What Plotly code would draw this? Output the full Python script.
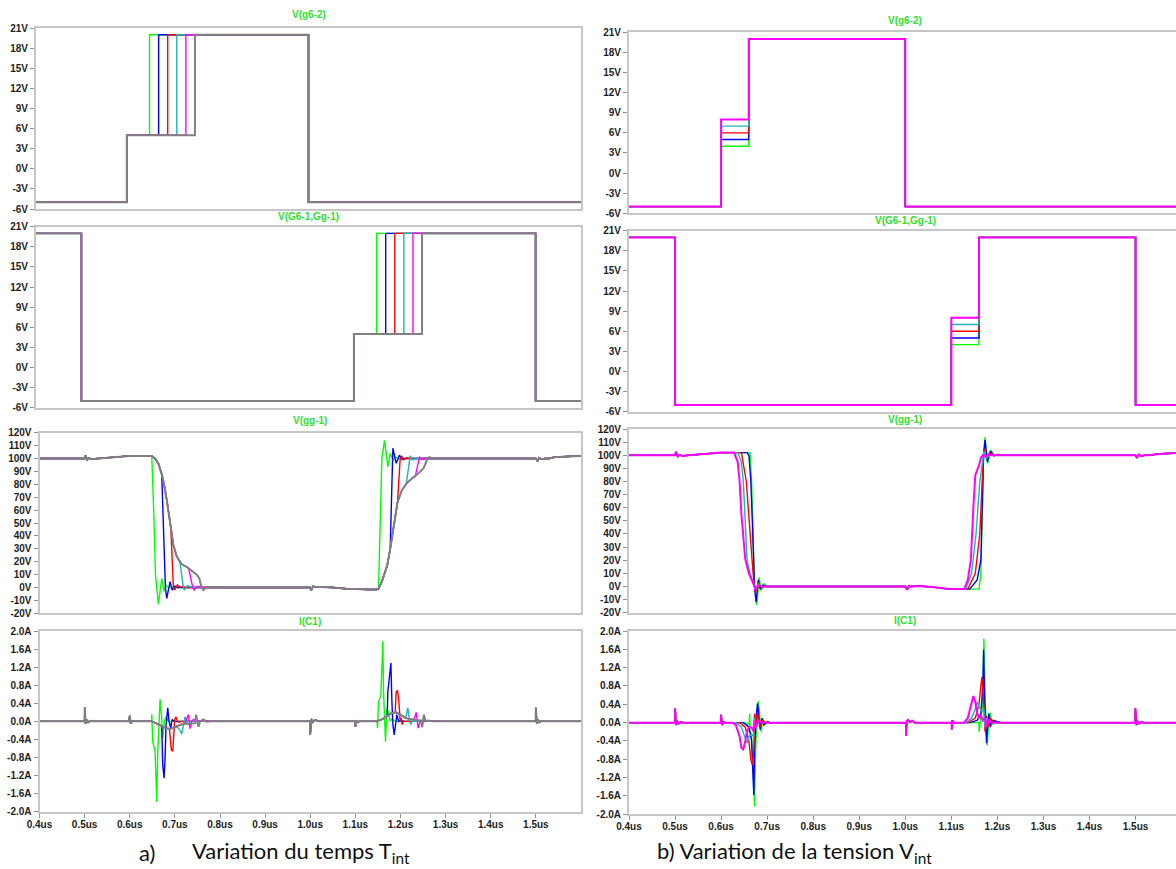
import plotly.graph_objects as go

W, H = 1176, 869

# ------------------------------------------------------------------ ticks / labels
X_TICK_VALS = [0.4, 0.5, 0.6, 0.7, 0.8, 0.9, 1.0, 1.1, 1.2, 1.3, 1.4, 1.5]
X_TICK_TEXT = ["0.4us", "0.5us", "0.6us", "0.7us", "0.8us", "0.9us", "1.0us",
               "1.1us", "1.2us", "1.3us", "1.4us", "1.5us"]
GATE_TICK_VALS = [21, 18, 15, 12, 9, 6, 3, 0, -3, -6]
GATE_TICK_TEXT = ["21V", "18V", "15V", "12V", "9V", "6V", "3V", "0V", "-3V", "-6V"]
VGG_TICK_VALS = [120, 110, 100, 90, 80, 70, 60, 50, 40, 30, 20, 10, 0, -10, -20]
VGG_TICK_TEXT = ["120V", "110V", "100V", "90V", "80V", "70V", "60V", "50V", "40V",
                 "30V", "20V", "10V", "0V", "-10V", "-20V"]
IC_TICK_VALS = [2.0, 1.6, 1.2, 0.8, 0.4, 0.0, -0.4, -0.8, -1.2, -1.6, -2.0]
IC_TICK_TEXT = ["2.0A", "1.6A", "1.2A", "0.8A", "0.4A", "0.0A", "-0.4A", "-0.8A",
                "-1.2A", "-1.6A", "-2.0A"]
PANEL_TITLES = ["V(g6-2)", "V(G6-1,Gg-1)", "V(gg-1)", "I(C1)"]
CAPTION_A_LABEL = "a)"
CAPTION_A_TEXT = "Variation du temps T<sub>int</sub>"
CAPTION_B_TEXT = "b) Variation de la tension V<sub>int</sub>"

# ------------------------------------------------------------------ gate data
T_START, T_END = 0.4, 1.6
V_LOW, V_HIGH = -5, 20
G2_ON, G2_OFF = 0.6, 1.0            # V(g6-2) edges
G1_OFF, G1_ON, G1_OFF2 = 0.5, 1.1, 1.5   # V(G6-1,Gg-1) edges

# a) time variation : intermediate level 5 V, switching instants vary
L_V_INT = 5
L_G2_T_INT = [0.65, 0.67, 0.69, 0.71, 0.73, 0.75]
L_G1_T_INT = [1.15, 1.17, 1.19, 1.21, 1.23, 1.25]

# b) voltage variation : fixed instants, intermediate level varies
R_V_INT = [4, 5, 6, 7, 8]
R_G2_T_INT = 0.66
R_G1_T_INT = 1.16

# ------------------------------------------------------------------ a) V(gg-1)
LV_PRE_T = [0.40, 0.50, 0.502, 0.506, 0.51, 0.515, 0.53, 0.55, 0.57, 0.60, 0.62, 0.645]
LV_PRE_V = [100, 100, 102.5, 99, 100.3, 99.5, 100, 100.5, 101.5, 102, 102, 102]
LV_FENV_T = [0.6487, 0.6561, 0.6635, 0.6709, 0.6761, 0.682, 0.6894, 0.6967, 0.7041,
             0.7152, 0.7263, 0.7374, 0.7485, 0.7544]
LV_FENV_V = [102, 100, 96, 88, 80, 68, 50, 33, 24, 18, 16, 13, 10, 7]
LV_FALL_T = [
    [0.6488, 0.653, 0.657, 0.6635, 0.6709, 0.6761, 0.680, 0.685, 0.70],
    [0.6709, 0.679, 0.682, 0.6894, 0.694, 0.699, 0.705],
    [0.6909, 0.6967, 0.699, 0.7055, 0.7115, 0.717, 0.722],
    [0.7115, 0.7189, 0.721, 0.7278, 0.7374],
    [0.7307, 0.7396, 0.7426, 0.75, 0.7596, 0.78],
    [0.7588, 0.7633, 0.7707, 0.7818],
]
LV_FALL_V = [
    [102, 60, 10, -13, 7, -3, 2, 0, 0],
    [88, 0, -8.4, 4.5, -2, 1, 0],
    [47, 0, -2, 2, 0, 1, 0],
    [19, 0, -2, 1.5, 0],
    [14.5, 0, -2, 1, 0, 0],
    [0, -2, 0.5, 0],
]
LV_MID_T = [0.79, 0.99, 0.9998, 1.002, 1.006, 1.01, 1.03, 1.05, 1.08, 1.11, 1.13, 1.1476]
LV_MID_V = [0, 0, 0, -2.5, 1, 0.5, 0.5, 0, -1, -1.5, -1.5, -1.5]
LV_RENV_T = [1.1513, 1.1587, 1.1705, 1.1772, 1.1845, 1.1934, 1.2031, 1.2141, 1.2252,
             1.24, 1.2511, 1.26]
LV_RENV_V = [-1, 4.5, 17, 30, 48, 66, 75.5, 81, 84.5, 88.5, 92.5, 100]
LV_RISE_T = [
    [1.1513, 1.155, 1.1587, 1.1646, 1.172, 1.1772, 1.183, 1.19, 1.1978],
    [1.1772, 1.1831, 1.1905, 1.1978, 1.203, 1.21],
    [1.1934, 1.1993, 1.2031, 1.207, 1.2141, 1.22],
    [1.2126, 1.2215, 1.227, 1.233],
    [1.2326, 1.2422, 1.247, 1.255, 1.2954],
    [1.2644, 1.27],
]
LV_RISE_V = [
    [-1, 50, 100, 114, 93.6, 104, 99, 101, 100],
    [30, 108, 96.3, 102.7, 99.5, 100],
    [66, 100, 101.5, 99, 100.5, 100],
    [80, 102, 99, 100],
    [86, 101, 99.5, 100, 100],
    [101, 100],
]
LV_POST_T = [1.30, 1.50, 1.504, 1.507, 1.512, 1.52, 1.53, 1.54, 1.57, 1.60]
LV_POST_V = [100, 100, 98, 100.5, 99.5, 100, 100, 101, 101.5, 102]

# ------------------------------------------------------------------ a) I(C1)
LI_PRE_T = [0.40, 0.50, 0.5003, 0.502, 0.505, 0.508, 0.512, 0.52, 0.598, 0.60, 0.602,
            0.605, 0.61, 0.645]
LI_PRE_V = [0, 0, 0.31, -0.05, 0.02, -0.02, 0.01, 0, 0, 0.12, -0.05, 0.01, 0, 0]
LI_FENV_T = [0.6487, 0.66, 0.6709, 0.68, 0.6894, 0.70, 0.7115, 0.72, 0.73, 0.745]
LI_FENV_V = [0, -0.05, -0.10, -0.15, -0.17, -0.12, -0.08, -0.05, -0.06, -0.04]
LI_FALL_T = [
    [0.6488, 0.6509, 0.6561, 0.6583, 0.6598, 0.662, 0.665, 0.6672, 0.6709, 0.6731,
     0.6768, 0.6805, 0.6857, 0.70],
    [0.6709, 0.6731, 0.6761, 0.6783, 0.6805, 0.6842, 0.6871, 0.6908, 0.6938, 0.6982, 0.71],
    [0.6879, 0.6908, 0.6923, 0.6953, 0.6975, 0.6997, 0.7027, 0.7056, 0.7086, 0.715],
    [0.7041, 0.7115, 0.7152, 0.7189, 0.7226, 0.7263, 0.73, 0.74],
    [0.7226, 0.73, 0.7337, 0.7374, 0.7411, 0.7485, 0.7965],
    [0.747, 0.7522, 0.7559, 0.7633, 0.7707, 0.78],
]
LI_FALL_V = [
    [0.156, -0.45, -0.67, -1.52, -1.78, -0.70, -0.07, 0.49, 0.05, -0.37, 0, 0.10, 0, 0],
    [-0.10, -0.97, -1.26, -0.80, -0.07, 0.30, 0, -0.15, 0.04, 0, 0],
    [-0.16, -0.45, -0.63, -0.66, -0.40, 0.04, 0.10, 0, -0.02, 0],
    [-0.12, -0.20, -0.28, -0.05, 0.10, -0.02, 0, 0],
    [-0.05, 0.15, -0.16, 0, 0.04, 0.02, 0.01],
    [0.15, -0.12, 0, 0.04, -0.01, 0],
]
LI_MID_T = [0.80, 0.9995, 1.0, 1.002, 1.005, 1.01, 1.02, 1.0995, 1.1, 1.102, 1.106,
            1.11, 1.12, 1.1476]
LI_MID_V = [0, 0, -0.30, 0.05, -0.02, 0.03, 0, 0, -0.12, 0.02, -0.02, 0.01, 0, 0]
LI_RENV_T = [1.16, 1.17, 1.18, 1.19, 1.20, 1.21, 1.22, 1.235, 1.245]
LI_RENV_V = [0.05, 0.12, 0.18, 0.20, 0.15, 0.08, 0.05, 0.03, 0.02]
LI_RISE_T = [
    [1.1491, 1.1513, 1.1565, 1.1587, 1.1609, 1.1624, 1.1646, 1.1668, 1.1698, 1.1735,
     1.1772, 1.1809, 1.19, 1.20],
    [1.1705, 1.172, 1.1772, 1.1787, 1.1809, 1.1831, 1.1861, 1.189, 1.192, 1.1957, 1.1993, 1.21],
    [1.1883, 1.1905, 1.1934, 1.1963, 1.1993, 1.2015, 1.2037, 1.2067, 1.215],
    [1.2082, 1.2126, 1.2163, 1.22, 1.223, 1.2259, 1.235],
    [1.2304, 1.2348, 1.2392, 1.2437, 1.2474, 1.2917],
    [1.2459, 1.2481, 1.2518, 1.2555, 1.26, 1.27],
]
LI_RISE_V = [
    [-0.15, 0.42, 0.58, 1.32, 1.78, 0.66, 0, -0.45, 0.27, 0.20, 0, 0.05, 0, 0],
    [0.12, 0.66, 1.25, 1.29, 0.45, -0.07, -0.30, 0, 0.15, 0, 0.02, 0],
    [0.20, 0.66, 0.68, 0.45, 0, 0.07, -0.07, 0, 0],
    [0.10, 0.12, 0.30, 0, -0.07, 0, 0],
    [0.04, 0.20, -0.15, 0, 0.02, 0.01],
    [0, -0.13, 0.15, 0, 0.02, 0],
]
LI_POST_T = [1.30, 1.4995, 1.50, 1.502, 1.505, 1.508, 1.512, 1.52, 1.60]
LI_POST_V = [0, 0, 0.30, -0.05, 0.02, -0.02, 0.01, 0, 0]

# ------------------------------------------------------------------ b) V(gg-1)
RV_PRE_T = [0.40, 0.50, 0.502, 0.506, 0.51, 0.515, 0.53, 0.55, 0.57, 0.60, 0.62]
RV_PRE_V = [100, 100, 102.5, 99, 100.3, 99.5, 100, 100.5, 101.5, 102, 102]
RV_FALL_T = [
    [0.6628, 0.6662, 0.6726, 0.6776, 0.6825, 0.687, 0.693, 0.7011],
    [0.6563, 0.6604, 0.6646, 0.6678, 0.6726, 0.6759, 0.6809, 0.6848, 0.6905, 0.697],
    [0.6441, 0.6548, 0.6604, 0.6694, 0.6726, 0.675, 0.6809, 0.6873, 0.693, 0.70],
    [0.6361, 0.6441, 0.6483, 0.6524, 0.6563, 0.6628, 0.6694, 0.6726, 0.675, 0.6809, 0.6889, 0.70],
    [0.628, 0.6361, 0.6402, 0.6441, 0.6483, 0.6524, 0.6604, 0.667, 0.6726, 0.675, 0.6809,
     0.6889, 0.7213],
]
RV_FALL_V = [
    [102, 80, 0, -14, 7, -3, 2, 0],
    [102, 100, 80, 50, 0, -12, 5, -2, 1, 0],
    [102, 80, 50, 10, 0, -5, 3, -1, 0, 0],
    [102, 95, 80, 50, 20, 10, 4, 0, -3, 2, 0, 0],
    [102, 95, 80, 55, 35, 21, 10, 5, 0, -3, 1, 0, 0],
]
RV_MID_T = [0.73, 1.0, 1.004, 1.008, 1.012, 1.03, 1.06, 1.095, 1.12]
RV_MID_V = [0, 0, -2.5, 0.5, 0, 0.3, -0.5, -2, -2]
RV_RISE_T = [
    [1.16, 1.1641, 1.17, 1.1731, 1.1788, 1.186, 1.1926, 1.2007, 1.2089],
    [1.1398, 1.1561, 1.1641, 1.17, 1.1731, 1.178, 1.1845, 1.1926],
    [1.1357, 1.152, 1.1618, 1.1683, 1.1707, 1.1763, 1.1829, 1.1926],
    [1.1316, 1.1439, 1.1537, 1.1618, 1.1683, 1.1707, 1.1763, 1.1845],
    [1.1276, 1.1357, 1.1423, 1.1478, 1.152, 1.16, 1.1641, 1.1683, 1.1748, 1.1804,
     1.1885, 1.2333],
]
RV_RISE_V = [
    [-2, 10, 100, 113.6, 93.8, 104, 99, 101, 100],
    [-2, 5, 20, 100, 111.6, 95, 103, 100],
    [-2, 10, 40, 90, 105, 97, 102, 100],
    [-2, 10, 40, 80, 100, 103, 98, 100],
    [-2, 5, 20, 60, 85, 92, 98, 100, 99, 100.5, 100, 100],
]
RV_POST_T = [1.25, 1.50, 1.503, 1.507, 1.512, 1.52, 1.53, 1.55, 1.60]
RV_POST_V = [100, 100, 98, 100.5, 99.5, 100, 100, 101, 102]

# ------------------------------------------------------------------ b) I(C1)
RI_PRE_T = [0.40, 0.50, 0.5003, 0.502, 0.505, 0.508, 0.512, 0.52, 0.599, 0.60, 0.602,
            0.605, 0.61, 0.62]
RI_PRE_V = [0, 0, 0.31, -0.05, 0.02, -0.02, 0.01, 0, 0, 0.17, -0.05, 0.01, 0, 0]
RI_FALL_T = [
    [0.6524, 0.6604, 0.6622, 0.6628, 0.6662, 0.6694, 0.6726, 0.6743, 0.6776, 0.6809,
     0.6848, 0.6873, 0.6905, 0.693, 0.7011, 0.7052],
    [0.6483, 0.6604, 0.6662, 0.6694, 0.6711, 0.6726, 0.6759, 0.6791, 0.6809, 0.6848,
     0.6889, 0.693, 0.7011, 0.7052],
    [0.6402, 0.6524, 0.6604, 0.6646, 0.6678, 0.6711, 0.6726, 0.6759, 0.6791, 0.6848,
     0.6905, 0.697],
    [0.632, 0.6441, 0.6524, 0.6563, 0.6604, 0.6662, 0.6711, 0.6726, 0.6759, 0.6809, 0.69, 0.70],
    [0.6239, 0.632, 0.6402, 0.6441, 0.6483, 0.6524, 0.6563, 0.6604, 0.6662, 0.6711,
     0.6726, 0.6759, 0.6809, 0.6889, 0.7376],
]
RI_FALL_V = [
    [0, -0.05, 0.20, -0.16, -0.30, -0.90, -1.83, -0.80, 0.10, 0.47, 0.05, -0.20, 0.10,
     -0.05, 0.03, 0],
    [0, -0.10, -0.40, -1.20, -1.58, -0.60, 0.10, 0.42, 0.20, -0.15, 0.10, -0.05, 0.02, 0],
    [0, -0.10, -0.40, -0.80, -0.92, -0.60, 0.20, -0.10, 0.20, -0.10, 0.05, 0],
    [0, -0.10, -0.35, -0.45, -0.30, -0.25, -0.30, 0.10, -0.12, 0.05, 0, 0],
    [0, -0.05, -0.30, -0.55, -0.58, -0.40, -0.20, -0.10, -0.10, -0.20, 0.05, -0.10,
     0.05, 0, 0],
]
RI_MID_T = [0.74, 1.0015, 1.0017, 1.003, 1.006, 1.01, 1.015, 1.02, 1.1007, 1.1009,
            1.102, 1.106, 1.12]
RI_MID_V = [0, 0, -0.29, 0.03, 0.06, 0.01, 0.04, 0, 0, -0.15, 0.05, 0, 0]
RI_RISE_T = [
    [1.16, 1.1601, 1.164, 1.1683, 1.1707, 1.1731, 1.1763, 1.178, 1.1812, 1.1845,
     1.1885, 1.1926, 1.2007, 1.2089],
    [1.1398, 1.1561, 1.1641, 1.1683, 1.17, 1.1722, 1.1763, 1.178, 1.1812, 1.1845,
     1.1885, 1.2007, 1.2089],
    [1.1357, 1.152, 1.16, 1.1641, 1.1665, 1.17, 1.1731, 1.1763, 1.1804, 1.1845, 1.1926, 1.20],
    [1.1316, 1.1439, 1.152, 1.1561, 1.16, 1.1665, 1.1707, 1.1731, 1.1763, 1.1845, 1.20],
    [1.1276, 1.1357, 1.1423, 1.1478, 1.152, 1.1561, 1.16, 1.1641, 1.1683, 1.1731,
     1.1763, 1.1804, 1.1885, 1.2333],
]
RI_RISE_V = [
    [0, -0.20, 0.10, 0.40, 1.83, 0.60, -0.20, -0.49, 0.05, 0.22, -0.05, 0.05, 0, 0],
    [0, 0.05, 0.20, 0.80, 1.59, 0.50, -0.45, -0.20, 0.20, -0.10, 0.05, 0.02, 0],
    [0, 0.10, 0.40, 0.80, 1.00, 0.50, -0.20, 0.15, -0.10, 0.10, 0, 0],
    [0, 0.10, 0.30, 0.45, 0.35, 0.25, 0.30, -0.10, 0.10, 0, 0],
    [0, 0.10, 0.40, 0.58, 0.45, 0.20, 0.10, 0.15, 0.05, 0.10, -0.10, 0.05, 0, 0],
]
RI_POST_T = [1.25, 1.4995, 1.4996, 1.502, 1.505, 1.508, 1.512, 1.52, 1.60]
RI_POST_V = [0, 0, 0.31, -0.05, 0.02, -0.02, 0.01, 0, 0]

# ------------------------------------------------------------------ style
L_COLORS = ["#00ff00", "#0000ff", "#ff0000", "#1fb5b5", "#ff00ff", "#808080"]
R_COLORS = ["#00ff00", "#0000ff", "#ff0000", "#1fb5b5", "#ff00ff"]
LINE_W = 1.4
TOP_LINE_W = 2.0
FRAME_COLOR = "#c6c6c6"
TICK_FONT = dict(family="Arial, Liberation Sans, sans-serif", size=10, color="#1e1e1e",
                 weight="bold")
TITLE_FONT = dict(family="Arial, Liberation Sans, sans-serif", size=10, color="#2fe02f",
                  weight="bold")
CAPTION_FONT = dict(family="Lato, Carlito, sans-serif", size=22, color="#111111")


# ------------------------------------------------------------------ builders
def gate_g2(t_int, v_mid):
    t = [T_START, G2_ON, G2_ON, t_int, t_int, G2_OFF, G2_OFF, T_END]
    v = [V_LOW, V_LOW, v_mid, v_mid, V_HIGH, V_HIGH, V_LOW, V_LOW]
    return t, v


def gate_g1(t_int, v_mid):
    t = [T_START, G1_OFF, G1_OFF, G1_ON, G1_ON, t_int, t_int, G1_OFF2, G1_OFF2, T_END]
    v = [V_HIGH, V_HIGH, V_LOW, V_LOW, v_mid, v_mid, V_HIGH, V_HIGH, V_LOW, V_LOW]
    return t, v


def env_until(env_t, env_v, t_break):
    n = len([t for t in env_t if t < t_break])
    return list(env_t[:n]), list(env_v[:n])


def build_with_env(pre_t, pre_v, fenv_t, fenv_v, fall_t, fall_v, mid_t, mid_v,
                   renv_t, renv_v, rise_t, rise_v, post_t, post_v):
    ft, fv = env_until(fenv_t, fenv_v, fall_t[0])
    rt, rv = env_until(renv_t, renv_v, rise_t[0])
    t = pre_t + ft + fall_t + mid_t + rt + rise_t + post_t
    v = pre_v + fv + fall_v + mid_v + rv + rise_v + post_v
    return t, v


# ------------------------------------------------------------------ layout geometry
def px(x):
    return x / W


def py(y):
    return 1 - y / H


R_XMAX = 0.4 + (1176 - 629) / 4605.0 * 10
# panel: (x0px, x1px, y_top_px, y_bot_px, xrange)
PANELS = [
    (36, 581, 28, 209, [0.4, 1.6]),
    (36, 581, 226.7, 407.7, [0.4, 1.6]),
    (39.5, 581, 432.7, 613.3, [0.4, 1.6]),
    (39.5, 581, 631, 811.7, [0.4, 1.6]),
    (629, 1176, 32.3, 213.3, [0.4, R_XMAX]),
    (629, 1176, 230.7, 411.7, [0.4, R_XMAX]),
    (629, 1176, 429, 612.7, [0.4, R_XMAX]),
    (629, 1176, 631, 814.3, [0.4, R_XMAX]),
]
TITLE_Y = [15, 216, 421, 621, 21, 220.7, 419.7, 620.7]
TITLE_X = [308.5, 308.5, 310, 310, 905, 905, 905, 905]

fig = go.Figure()


def add(panel, t, v, color, width):
    sfx = "" if panel == 1 else str(panel)
    fig.add_trace(go.Scatter(x=t, y=v, mode="lines", xaxis="x" + sfx, yaxis="y" + sfx,
                             line=dict(color=color, width=width), showlegend=False,
                             hoverinfo="skip"))


def w_for(i, n):
    return TOP_LINE_W if i == n - 1 else LINE_W


nL, nR = len(L_COLORS), len(R_COLORS)
# a) left column
for i, c in enumerate(L_COLORS):
    add(1, *gate_g2(L_G2_T_INT[i], L_V_INT), c, w_for(i, nL))
for i, c in enumerate(L_COLORS):
    add(2, *gate_g1(L_G1_T_INT[i], L_V_INT), c, w_for(i, nL))
for i, c in enumerate(L_COLORS):
    add(3, *build_with_env(LV_PRE_T, LV_PRE_V, LV_FENV_T, LV_FENV_V, LV_FALL_T[i], LV_FALL_V[i],
                           LV_MID_T, LV_MID_V, LV_RENV_T, LV_RENV_V, LV_RISE_T[i], LV_RISE_V[i],
                           LV_POST_T, LV_POST_V), c, w_for(i, nL))
for i, c in enumerate(L_COLORS):
    add(4, *build_with_env(LI_PRE_T, LI_PRE_V, LI_FENV_T, LI_FENV_V, LI_FALL_T[i], LI_FALL_V[i],
                           LI_MID_T, LI_MID_V, LI_RENV_T, LI_RENV_V, LI_RISE_T[i], LI_RISE_V[i],
                           LI_POST_T, LI_POST_V), c, w_for(i, nL))

# b) right column
for i, c in enumerate(R_COLORS):
    add(5, *gate_g2(R_G2_T_INT, R_V_INT[i]), c, w_for(i, nR))
for i, c in enumerate(R_COLORS):
    add(6, *gate_g1(R_G1_T_INT, R_V_INT[i]), c, w_for(i, nR))
for i, c in enumerate(R_COLORS):
    add(7, RV_PRE_T + RV_FALL_T[i] + RV_MID_T + RV_RISE_T[i] + RV_POST_T,
        RV_PRE_V + RV_FALL_V[i] + RV_MID_V + RV_RISE_V[i] + RV_POST_V, c, w_for(i, nR))
for i, c in enumerate(R_COLORS):
    add(8, RI_PRE_T + RI_FALL_T[i] + RI_MID_T + RI_RISE_T[i] + RI_POST_T,
        RI_PRE_V + RI_FALL_V[i] + RI_MID_V + RI_RISE_V[i] + RI_POST_V, c, w_for(i, nR))

Y_SPECS = [
    ([-6, 21], GATE_TICK_VALS, GATE_TICK_TEXT),
    ([-6, 21], GATE_TICK_VALS, GATE_TICK_TEXT),
    ([-20, 120], VGG_TICK_VALS, VGG_TICK_TEXT),
    ([-2, 2], IC_TICK_VALS, IC_TICK_TEXT),
]

layout = dict(width=W, height=H, autosize=False, margin=dict(l=0, r=0, t=0, b=0, pad=0),
              paper_bgcolor="white", plot_bgcolor="white", showlegend=False,
              template="none")
annotations = []
for k, (x0, x1, yt, yb, xr) in enumerate(PANELS):
    n = k + 1
    sfx = "" if n == 1 else str(n)
    right = k >= 4
    bottom = (k % 4) == 3
    yr, yv, yt_text = Y_SPECS[k % 4]
    layout["xaxis" + sfx] = dict(
        domain=[px(x0), min(1.0, px(x1))], range=xr, anchor="y" + sfx, automargin=False,
        showline=True, linecolor=FRAME_COLOR, linewidth=2, mirror=True,
        showgrid=False, zeroline=False,
        tickmode="array", tickvals=X_TICK_VALS, ticktext=X_TICK_TEXT,
        showticklabels=bottom, ticks="outside" if bottom else "", ticklen=4,
        ticklabelstandoff=-2,
        tickcolor="#909090", tickfont=TICK_FONT, fixedrange=True)
    layout["yaxis" + sfx] = dict(
        domain=[py(yb), py(yt)], range=yr, anchor="x" + sfx, automargin=False,
        showline=True, linecolor=FRAME_COLOR, linewidth=2, mirror=not right,
        showgrid=False, zeroline=False,
        tickmode="array", tickvals=yv, ticktext=yt_text,
        ticks="outside", ticklen=4, tickcolor="#909090", tickfont=TICK_FONT,
        fixedrange=True)
    annotations.append(dict(x=px(TITLE_X[k]), y=py(TITLE_Y[k]), xref="paper", yref="paper",
                            text=PANEL_TITLES[k % 4], showarrow=False, font=TITLE_FONT,
                            xanchor="center", yanchor="middle"))

CAP_Y = 852
annotations.append(dict(x=px(137), y=py(CAP_Y), xref="paper", yref="paper", text=CAPTION_A_LABEL,
                        showarrow=False, font=CAPTION_FONT, xanchor="left", yanchor="middle"))
annotations.append(dict(x=px(190), y=py(CAP_Y), xref="paper", yref="paper", text=CAPTION_A_TEXT,
                        showarrow=False, font=CAPTION_FONT, xanchor="left", yanchor="middle"))
annotations.append(dict(x=px(655), y=py(CAP_Y), xref="paper", yref="paper", text=CAPTION_B_TEXT,
                        showarrow=False, font=CAPTION_FONT, xanchor="left", yanchor="middle"))
layout["annotations"] = annotations

fig.update_layout(**layout)
fig.write_html("out.html",
               config={"displayModeBar": False, "staticPlot": True},
               post_script="document.body.style.margin='0';document.body.style.padding='0';"
                           "document.documentElement.style.overflow='hidden';")
